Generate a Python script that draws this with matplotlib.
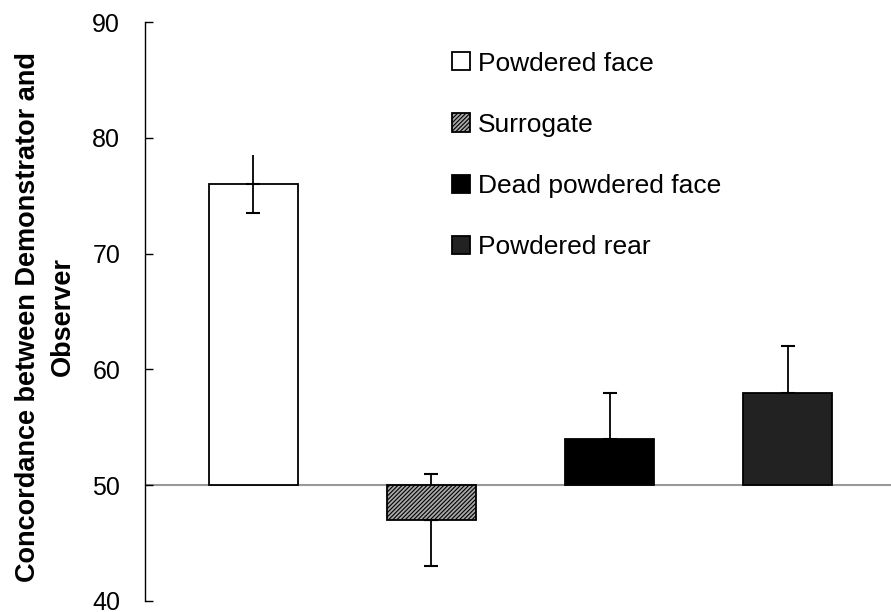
import matplotlib
matplotlib.use('Agg')
import matplotlib.pyplot as plt

# data
categories = ['Powdered face', 'Surrogate', 'Dead powdered face', 'Powdered rear']
values = [76, 47, 54, 58]
err_low = [2.5, 4, 0, 0]
err_high = [2.5, 4, 4, 4]
cap_low = [True, True, False, False]
cap_high = [False, True, True, True]
baseline = 50
yticks = [40, 50, 60, 70, 80, 90]

plt.rcParams['font.family'] = ['Liberation Sans', 'DejaVu Sans']
plt.rcParams['hatch.color'] = '#2a2a2a'
plt.rcParams['hatch.linewidth'] = 0.8

fig = plt.figure(figsize=(8.91, 6.12), dpi=100)
ax = fig.add_axes([0.163, 0.018, 0.837, 0.946])

x = list(range(len(categories)))
heights = [v - baseline for v in values]
faces = ['white', '#a8a8a8', 'black', '#222222']
hatches = [None, '////////', None, None]

bars = ax.bar(x, heights, bottom=baseline, width=0.5, color=faces,
              edgecolor='black', linewidth=1.3, zorder=3)
for b, h in zip(bars, hatches):
    if h:
        b.set_hatch(h)

# error bars, upper and lower halves separately (caps differ)
for i in x:
    if err_high[i] > 0:
        ax.errorbar(i, values[i], yerr=[[0], [err_high[i]]], fmt='none',
                    ecolor='black', elinewidth=1.3,
                    capsize=4.7 if cap_high[i] else 0, capthick=1.5, zorder=2)
    if err_low[i] > 0:
        ax.errorbar(i, values[i], yerr=[[err_low[i]], [0]], fmt='none',
                    ecolor='black', elinewidth=1.3,
                    capsize=4.7 if cap_low[i] else 0, capthick=1.5, zorder=4)

ax.axhline(baseline, color='#999999', linewidth=1.5, zorder=1)

ax.set_xlim(-0.607, 3.58)
ax.set_ylim(40, 90)
ax.set_yticks(yticks)
ax.set_xticks([])
ax.tick_params(axis='y', direction='in', length=6, width=1, labelsize=18, pad=18)
for s in ['top', 'right', 'bottom']:
    ax.spines[s].set_visible(False)
ax.spines['left'].set_linewidth(1)

ax.set_ylabel('Concordance between Demonstrator and\nObserver',
              fontsize=19.5, fontweight='bold', linespacing=1.45)
ax.yaxis.set_label_coords(-0.093, 0.491)

for b, lab in zip(bars, categories):
    b.set_label(lab)
ax.legend(loc='upper left', bbox_to_anchor=(0.4115, 0.949), frameon=False,
          fontsize=19, handlelength=0.68, handleheight=0.68,
          handletextpad=0.3, labelspacing=1.41, borderaxespad=0, borderpad=0)

fig.savefig('out.png', dpi=100)
